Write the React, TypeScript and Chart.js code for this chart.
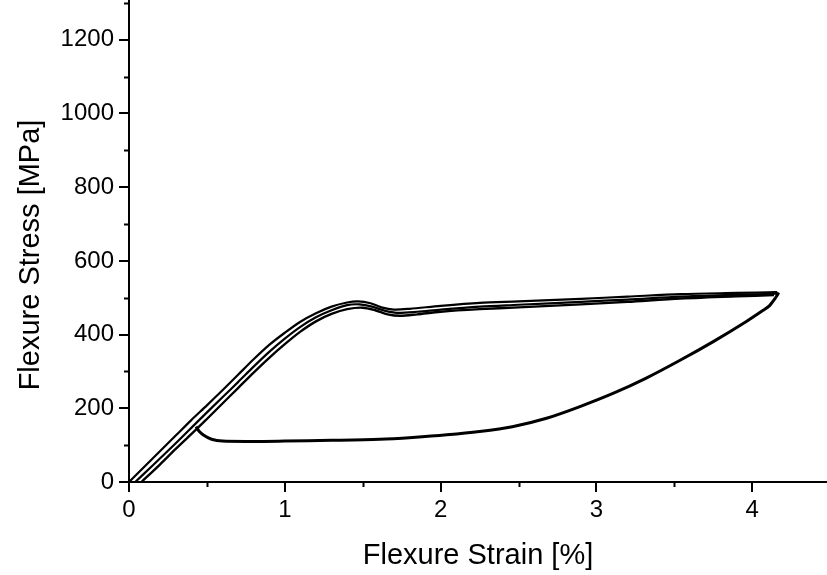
import React, { useEffect, useRef } from 'react';
import { Chart, registerables } from 'chart.js';

Chart.register(...registerables);

// Axis ranges and ticks
const xRange = [0, 4.48];
const yRange = [0, 1308];
const xStep = 1;
const yStep = 200;
const xMinorTicks = [0.5, 1.5, 2.5, 3.5];
const yMinorTicks = [100, 300, 500, 700, 900, 1100, 1300];

const xTitle = 'Flexure Strain [%]';
const yTitle = 'Flexure Stress [MPa]';

// Loading strands (several cycles)
const loadOuterX = [0, 0.1, 0.2, 0.3, 0.4, 0.5, 0.6, 0.7, 0.8, 0.9, 1.0, 1.1, 1.2, 1.3, 1.4, 1.47, 1.55, 1.62, 1.7, 1.8, 2.0, 2.25, 2.5, 2.9, 3.2, 3.54, 3.9, 4.16];
const loadOuterY = [0, 42, 84, 126, 168, 208, 249, 291, 333, 372, 405, 435, 458, 476, 487, 490, 485, 474, 468, 470, 478, 486, 490, 497, 503, 510, 513, 515];

const loadMidX = [0.04, 0.15, 0.3, 0.45, 0.6, 0.7, 0.8, 0.9, 1.0, 1.1, 1.2, 1.3, 1.4, 1.48, 1.56, 1.64, 1.72, 1.85, 2.0, 2.25, 2.5, 2.9, 3.2, 3.54, 3.9, 4.16];
const loadMidY = [0, 44, 105, 168, 230, 271, 313, 353, 389, 421, 447, 466, 480, 482, 476, 465, 459, 462, 468, 476, 481, 489, 495, 503, 508, 511];

const loadInnerX = [0.08, 0.2, 0.3, 0.43, 0.5, 0.6, 0.7, 0.8, 0.9, 1.0, 1.1, 1.2, 1.3, 1.4, 1.5, 1.58, 1.66, 1.74, 1.85, 2.0, 2.25, 2.5, 2.9, 3.2, 3.54, 3.9, 4.14];
const loadInnerY = [0, 48, 90, 142, 171, 213, 255, 297, 337, 374, 408, 436, 456, 469, 473, 466, 455, 451, 455, 462, 469, 474, 482, 489, 498, 504, 507];

// Unloading (lower) branch
const unloadX = [4.17, 4.15, 4.11, 4.07, 3.96, 3.75, 3.54, 3.32, 3.11, 2.89, 2.68, 2.46, 2.25, 2.04, 1.82, 1.61, 1.3, 1.0, 0.8, 0.6, 0.53, 0.48, 0.45, 0.43];
const unloadY = [514, 500, 478, 466, 435, 381, 331, 282, 241, 204, 173, 150, 137, 128, 121, 116, 113, 111, 110, 111, 116, 127, 138, 150];

const FONT = "'Liberation Sans', Arial, Helvetica, sans-serif";

const toPoints = (xs: number[], ys: number[]) => xs.map((x, i) => ({ x, y: ys[i] }));

const decorPlugin = {
  id: 'decor',
  afterDraw(chart: any) {
    const { ctx, chartArea, scales } = chart;
    const xs = scales.x;
    const ys = scales.y;
    ctx.save();
    ctx.strokeStyle = '#000';
    ctx.lineWidth = 2;
    for (const v of yMinorTicks) {
      const py = Math.round(ys.getPixelForValue(v)) + 0.5;
      ctx.beginPath();
      ctx.moveTo(chartArea.left - 5, py);
      ctx.lineTo(chartArea.left, py);
      ctx.stroke();
    }
    for (const v of xMinorTicks) {
      const px = Math.round(xs.getPixelForValue(v)) + 0.5;
      ctx.beginPath();
      ctx.moveTo(px, chartArea.bottom);
      ctx.lineTo(px, chartArea.bottom + 5);
      ctx.stroke();
    }
    ctx.translate(31, 255);
    ctx.rotate(-Math.PI / 2);
    ctx.fillStyle = '#000';
    ctx.font = `29px ${FONT}`;
    ctx.textAlign = 'center';
    ctx.textBaseline = 'middle';
    ctx.fillText(yTitle, 0, 0);
    ctx.restore();
  },
};

export default function App() {
  const ref = useRef<HTMLCanvasElement | null>(null);
  useEffect(() => {
    if (!ref.current) return;
    const line = (xs: number[], ys: number[], w: number) => ({
      data: toPoints(xs, ys),
      borderColor: '#000',
      borderWidth: w,
      pointRadius: 0,
      fill: false,
      tension: 0.3,
      showLine: true,
    });
    const chart = new Chart(ref.current, {
      type: 'scatter',
      data: {
        datasets: [
          line(loadOuterX, loadOuterY, 2.2),
          line(loadMidX, loadMidY, 2.2),
          line(loadInnerX, loadInnerY, 2.4),
          line(unloadX, unloadY, 3),
        ],
      },
      options: {
        animation: false,
        responsive: false,
        layout: { padding: 0 },
        plugins: { legend: { display: false }, tooltip: { enabled: false } },
        scales: {
          x: {
            type: 'linear',
            min: xRange[0],
            max: xRange[1],
            ticks: {
              stepSize: xStep,
              includeBounds: false,
              color: '#000',
              font: { family: FONT, size: 24 },
              padding: 4,
              maxRotation: 0,
              callback: (v: any) => String(v),
            },
            grid: { drawOnChartArea: false, drawTicks: true, tickLength: 10, tickColor: '#000', lineWidth: 2 },
            border: { display: true, color: '#000', width: 2 },
            title: {
              display: true,
              text: xTitle,
              color: '#000',
              font: { family: FONT, size: 29 },
              padding: { top: 0, bottom: 2 },
            },
            afterFit: (s: any) => {
              s.height = 93;
              s.paddingLeft = 0;
              s.paddingRight = 0;
            },
          },
          y: {
            type: 'linear',
            min: yRange[0],
            max: yRange[1],
            ticks: {
              stepSize: yStep,
              includeBounds: false,
              color: '#000',
              font: { family: FONT, size: 24 },
              padding: 5,
              callback: (v: any) => String(v),
            },
            grid: { drawOnChartArea: false, drawTicks: true, tickLength: 10, tickColor: '#000', lineWidth: 2 },
            border: { display: true, color: '#000', width: 2 },
            title: { display: false },
            afterFit: (s: any) => {
              s.width = 129;
              s.paddingTop = 0;
              s.paddingBottom = 0;
            },
          },
        },
      },
      plugins: [decorPlugin],
    } as any);
    return () => chart.destroy();
  }, []);
  return (
    <div style={{ position: 'absolute', left: 0, top: 0, width: 827, height: 575, background: '#fff' }}>
      <canvas ref={ref} width={827} height={575} style={{ display: 'block' }} />
    </div>
  );
}
